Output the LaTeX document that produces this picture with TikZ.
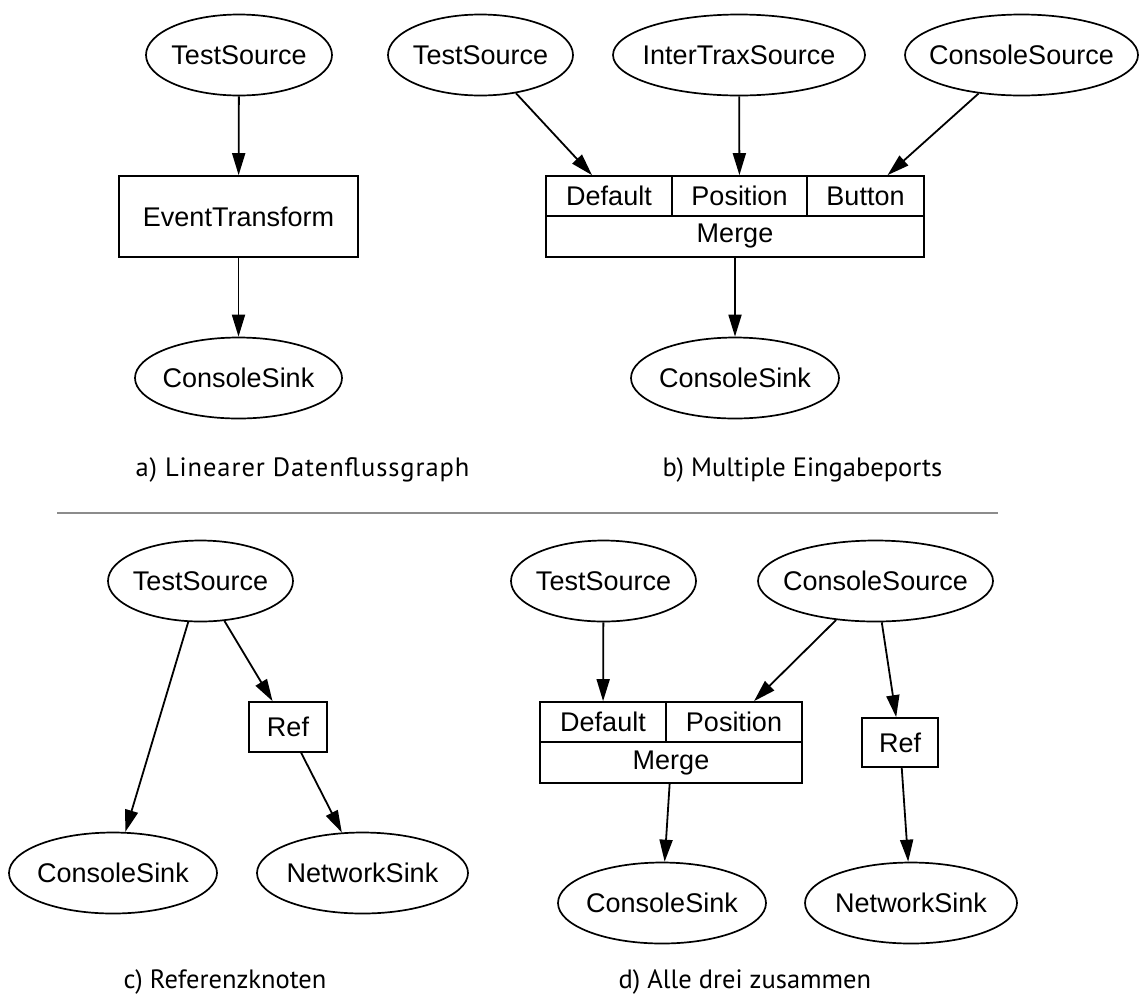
\documentclass[tikz,border=0pt]{standalone}
\usepackage{fontspec}
\setmainfont{Liberation Sans}
\newfontfamily\panelfont{PT Sans}
\usetikzlibrary{arrows.meta,shapes.geometric}

\begin{document}
\begin{tikzpicture}[
  x=1pt, y=-1pt,
  font=\fontsize{27}{31}\selectfont, >={Triangle[length=22pt,width=13pt]},
  src/.style={draw, ellipse, line width=1.7pt, inner xsep=-20pt, inner ysep=0pt,
              minimum height=81pt, minimum width=#1},
  blk/.style={draw, rectangle, line width=1.7pt, inner sep=0pt,
              minimum width=#1},
  port/.style={draw, rectangle, line width=1.7pt, inner sep=0pt,
               minimum height=40pt, minimum width=#1},
  arr/.style={->, line width=1.8pt},
  lbl/.style={font=\panelfont\fontsize{26.5}{30}\selectfont, anchor=base west},
  sep/.style={line width=2pt, black!45},
]
\useasboundingbox (0,0) rectangle (1139,997);

% a) linear
\node[src=186pt] (aTest)    at (239,55)      {TestSource};
\node[blk=239pt, minimum height=81pt] (aTrans) at (238.5,216.5) {EventTransform};
\node[src=207pt] (aConsole) at (238.5,378)   {ConsoleSink};

\draw[arr] (aTest) -- (aTrans);
\draw[arr] (aTrans) -- (aConsole);

% b) multiple input ports
\node[src=185pt] (bTest)    at (480.5,55)  {TestSource};
\node[src=252pt] (bInter)   at (739,55)    {InterTraxSource};
\node[src=233pt] (bConSrc)  at (1021.5,55) {ConsoleSource};
\node[port=126pt] (bDefault)  at (609,196)   {Default};
\node[port=135pt] (bPosition) at (739.5,196) {Position};
\node[port=117pt] (bButton)   at (865.5,196) {Button};
\node[port=378pt, minimum height=41pt] (bMerge) at (735,236.5) {Merge};
\node[src=208pt] (bConsole) at (735,378)   {ConsoleSink};

\draw[arr] (bTest) -- ([xshift=-17pt]bDefault.north);
\draw[arr] (bInter) -- (bPosition);
\draw[arr] (bConSrc) -- ([xshift=22pt]bButton.north);
\draw[arr] (bMerge) -- (bConsole);

\node[lbl] (aCap) at (132,476) {\addfontfeature{LetterSpace=3.5}a) Linearer Datenflussgraph};
\node[lbl] (bCap) at (659,476) {b) Multiple Eingabeports};

\coordinate (sepL) at (57,513);
\coordinate (sepR) at (998,513);
\draw[sep] (sepL) -- (sepR);

% c) reference node
\node[src=185pt] (cTest)    at (200.5,581) {TestSource};
\node[blk=78pt, minimum height=50pt] (cRef) at (288,727) {Ref};
\node[src=208pt] (cConsole) at (113,873)   {ConsoleSink};
\node[src=211pt] (cNet)     at (362.5,873) {NetworkSink};

\draw[arr] (cTest) -- (cConsole);
\draw[arr] (cTest) -- (cRef);
\draw[arr] (cRef) -- (cNet);

% d) everything together
\node[src=185pt] (dTest)    at (603.5,581) {TestSource};
\node[src=235pt] (dConSrc)  at (875.5,581) {ConsoleSource};
\node[port=126pt] (dDefault)  at (603,722) {Default};
\node[port=136pt] (dPosition) at (734,722) {Position};
\node[port=262pt, minimum height=41pt] (dMerge) at (671,762.5) {Merge};
\node[blk=76pt, minimum height=49pt] (dRef) at (900,742.5) {Ref};
\node[src=208pt] (dConsole) at (662,903)   {ConsoleSink};
\node[src=212pt] (dNet)     at (911,903)   {NetworkSink};

\draw[arr] (dTest) -- (dDefault);
\draw[arr] (dConSrc) -- ([xshift=20pt]dPosition.north);
\draw[arr] (dConSrc) -- (dRef);
\draw[arr] (dMerge) -- (dConsole);
\draw[arr] (dRef) -- (dNet);

\node[lbl] (cCap) at (120,988) {c) Referenzknoten};
\node[lbl] (dCap) at (615,988) {d) Alle drei zusammen};
\end{tikzpicture}
\end{document}
